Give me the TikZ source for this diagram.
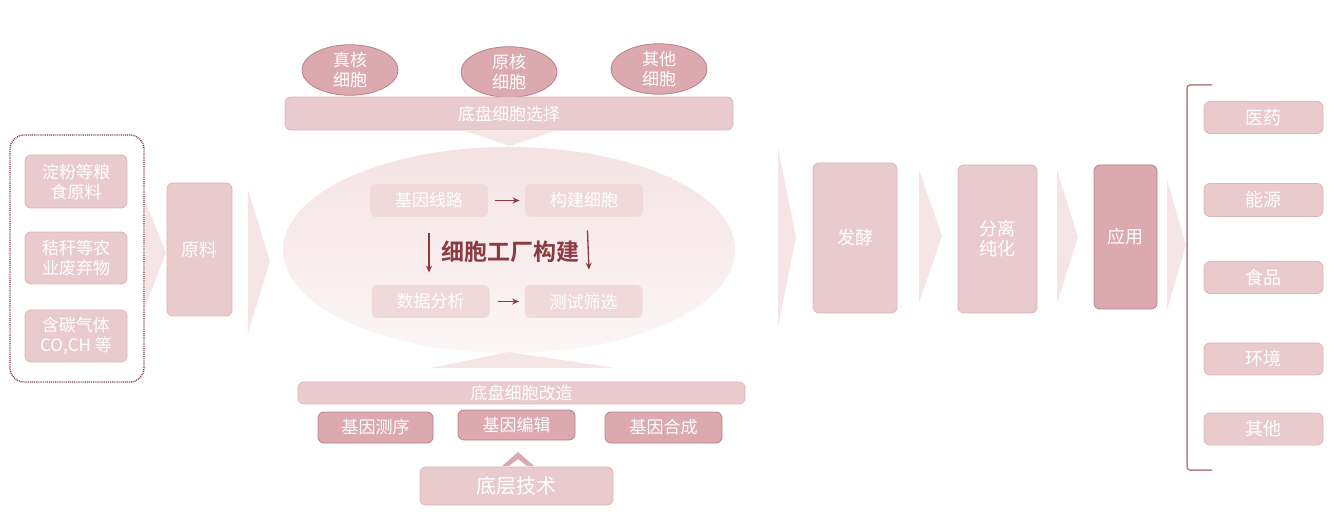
\documentclass[tikz,border=0pt]{standalone}
\usepackage{fontspec}
\setmainfont{Noto Sans CJK SC}[BoldFont={Noto Sans CJK SC Bold}]
\usetikzlibrary{calc,arrows.meta,shapes.geometric}
\definecolor{boxfill}{HTML}{E9CBCE}
\definecolor{boxline}{HTML}{DDB5B9}
\definecolor{darkfill}{HTML}{DBA9AE}
\definecolor{darkline}{HTML}{B88188}
\definecolor{softfill}{HTML}{EFD9DB}
\definecolor{chevfill}{HTML}{F6E5E6}
\definecolor{darkred}{HTML}{8C3A42}
\definecolor{framered}{HTML}{7D3C43}
\tikzset{
	box/.style={draw=boxline, line width=0.8pt, fill=boxfill, rounded corners=6pt, text=white, align=center, inner sep=0pt, font=\fontsize{17}{20}\selectfont},
	darkbox/.style={box, draw=darkline, fill=darkfill},
	softbox/.style={box, draw=none, fill=softfill},
	cellell/.style={darkbox, ellipse, minimum width=96pt, minimum height=48pt},
	chev/.style={fill=chevfill, draw=none},
	redarrow/.style={draw=darkred, line width=1.3pt, -{Stealth[length=7pt,width=6pt]}},
}

\begin{document}
\begin{tikzpicture}[x=1pt, y=-1pt]
			%%%%% START %%%%%
			\useasboundingbox (0,0) rectangle (1341,518);
			
			% raw materials
			\draw[framered, line width=1.3pt, dash pattern=on 1pt off 0.9pt, rounded corners=14pt] (10,135) rectangle (144,382);
			\node[box, minimum width=102pt, minimum height=53pt] (starch) at (76,181.5) {淀粉等粮\\食原料};
			\node[box, minimum width=102pt, minimum height=52pt] (straw) at (76,258) {秸秆等农\\业废弃物};
			\node[box, minimum width=102pt, minimum height=52pt] (gas) at (76,336) {含碳气体\\CO,CH 等};
			\fill[chev] (145,200) -- (166,253) -- (145,307) -- cycle;
			\node[box, minimum width=65pt, minimum height=133pt, font=\fontsize{18}{20}\selectfont] (raw) at (199.5,249.5) {原料};
			\fill[chev] (248,190) -- (270,261) -- (248,333) -- cycle;
			
			% cell factory
			\shade[top color=chevfill!90!boxfill, bottom color=chevfill!35] (509,250) ellipse (226 and 103);
			\node[cellell] (euk) at (350,70) {真核\\细胞};
			\node[cellell] (prok) at (509,72) {原核\\细胞};
			\node[cellell] (other) at (659,69) {其他\\细胞};
			\node[box, minimum width=448pt, minimum height=33pt] (select) at (509,113.5) {底盘细胞选择};
			\fill[chev] (463,130) -- (557,130) -- (510,146) -- cycle;
			
			\node[softbox, minimum width=118pt, minimum height=33pt] (circuit) at (429,200.5) {基因线路};
			\node[softbox, minimum width=118pt, minimum height=33pt] (build) at (584,200.5) {构建细胞};
			\node[softbox, minimum width=118pt, minimum height=33pt] (data) at (430.5,301.5) {数据分析};
			\node[softbox, minimum width=118pt, minimum height=33pt] (test) at (583.5,301.5) {测试筛选};
			\node[text=darkred, font=\fontsize{23}{26}\selectfont\bfseries] (factory) at (510,252) {细胞工厂构建};
			\draw[redarrow, shorten <=7pt, shorten >=5pt] (circuit) -- (build);
			\draw[redarrow, shorten <=8pt, shorten >=5pt] (data) -- (test);
			\draw[redarrow, shorten <=16pt, shorten >=12pt] (circuit.south) -- (data.north -| circuit.south);
			\draw[redarrow, shorten <=13pt, shorten >=15pt] ($(build.south)+(3,0)$) -- ($(test.north)+(6,0)$);
			
			% base technology
			\fill[chev] (430,368) -- (509,352) -- (615,368) -- cycle;
			\node[box, minimum width=447pt, minimum height=22pt] (modify) at (521.5,393) {底盘细胞改造};
			\node[darkbox, minimum width=115pt, minimum height=31pt] (seq) at (375.5,427.5) {基因测序};
			\node[darkbox, minimum width=117pt, minimum height=30pt] (edit) at (516.5,425) {基因编辑};
			\node[darkbox, minimum width=117pt, minimum height=31pt] (synth) at (663.5,427.5) {基因合成};
			\fill[darkfill] (502,466) -- (518,452) -- (534,466) -- (527,466) -- (518,459) -- (509,466) -- cycle;
			\node[box, minimum width=193pt, minimum height=38pt, font=\fontsize{20}{22}\selectfont] (tech) at (516.5,486) {底层技术};
			
			% downstream
			\fill[chev] (778,148) -- (796,237) -- (778,327) -- cycle;
			\node[box, minimum width=84pt, minimum height=150pt, font=\fontsize{18}{20}\selectfont] (ferment) at (855,238) {发酵};
			\fill[chev] (919,170) -- (942,236) -- (919,303) -- cycle;
			\node[box, minimum width=79pt, minimum height=148pt, font=\fontsize{18}{20}\selectfont] (purify) at (997.5,239) {分离\\纯化};
			\fill[chev] (1057,170) -- (1078,237) -- (1057,303) -- cycle;
			\node[darkbox, minimum width=63pt, minimum height=144pt, font=\fontsize{18}{20}\selectfont] (apply) at (1125.5,237) {应用};
			\fill[chev] (1167,180) -- (1186,245) -- (1167,310) -- cycle;
			
			% applications
			\draw[darkline, line width=1.5pt, rounded corners=3pt] (1212,85) -- (1187,85) -- (1187,470) -- (1212,470);
			\node[box, minimum width=119pt, minimum height=32pt, font=\fontsize{18}{20}\selectfont] (med) at (1263.5,117.5) {医药};
			\node[box, minimum width=119pt, minimum height=33pt, font=\fontsize{18}{20}\selectfont] (energy) at (1263.5,200) {能源};
			\node[box, minimum width=119pt, minimum height=32pt, font=\fontsize{18}{20}\selectfont] (food) at (1263.5,277.5) {食品};
			\node[box, minimum width=119pt, minimum height=32pt, font=\fontsize{18}{20}\selectfont] (env) at (1263.5,359) {环境};
			\node[box, minimum width=119pt, minimum height=32pt, font=\fontsize{18}{20}\selectfont] (misc) at (1263.5,429) {其他};
			%%%%% END %%%%%
\end{tikzpicture}
\end{document}
